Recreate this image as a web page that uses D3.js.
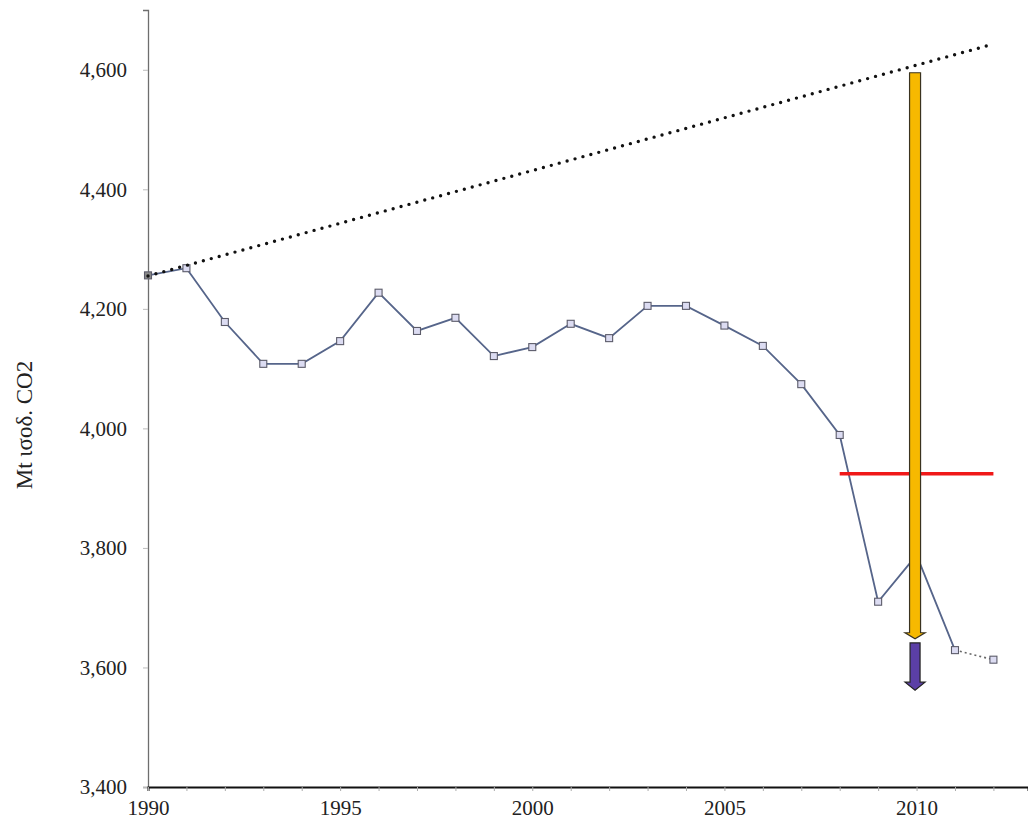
<!DOCTYPE html>
<html>
<head>
<meta charset="utf-8">
<script src="https://cdn.jsdelivr.net/npm/d3@7"></script>
<style>
  html, body { margin: 0; padding: 0; background: #fff; }
</style>
</head>
<body>
<svg id="chart" width="1028" height="825"></svg>
<script>
// Emissions, Mt CO2 equivalent
const years = [1990,1991,1992,1993,1994,1995,1996,1997,1998,1999,2000,2001,2002,2003,2004,2005,2006,2007,2008,2009,2010,2011];
const emissions = [4256,4268,4178,4108,4108,4146,4227,4163,4185,4121,4136,4175,4151,4205,4205,4172,4138,4074,3989,3710,3788,3629];
// Provisional estimate, joined by a dotted segment
const projYears = [2011, 2012];
const projValues = [3629, 3613];
// Business-as-usual trend line
const trendYears = [1990, 2012];
const trendValues = [4255, 4643];
// Target level over the commitment period
const targetYears = [2008, 2012];
const targetValue = 3924;
// Reduction arrows at 2010
const arrowYear = 2010;
const yellowArrow = [4595, 3648];
const purpleArrow = [3641, 3562];

const yTicks = [3400, 3600, 3800, 4000, 4200, 4400, 4600];
const xLabelYears = [1990, 1995, 2000, 2005, 2010];
const xMinorYears = d3.range(1990, 2013);

const FONT = "'Liberation Serif', 'Times New Roman', serif";

const svg = d3.select("#chart");
const x = d3.scaleLinear().domain([1990, 2012.9]).range([148, 1028]);
const y = d3.scaleLinear().domain([3400, 4700]).range([787, 10]);

// Y axis
const yAxis = svg.append("g").attr("transform", `translate(${x(1990)},0)`)
  .call(d3.axisLeft(y).tickValues(yTicks).tickFormat(d3.format(",")).tickSize(5).tickPadding(16));
yAxis.attr("font-family", FONT).attr("font-size", 21);
yAxis.select(".domain").attr("stroke", "#6e6e6e").attr("stroke-width", 1.3);
yAxis.selectAll(".tick line").attr("stroke", "#bbb");
yAxis.selectAll(".tick text").attr("fill", "#222");

// X axis: minor ticks every year, labels every five
const xAxis = svg.append("g").attr("transform", `translate(0,${y(3400)})`)
  .call(d3.axisBottom(x).tickValues(xMinorYears).tickSize(4)
    .tickFormat(d => xLabelYears.includes(d) ? String(d) : "").tickPadding(9));
xAxis.attr("font-family", FONT).attr("font-size", 21);
xAxis.select(".domain").attr("stroke", "#111").attr("stroke-width", 2);
xAxis.selectAll(".tick line").attr("stroke", "#aaa");
xAxis.selectAll(".tick text").attr("fill", "#222");

// Axis title
svg.append("text")
  .attr("transform", `translate(32,425) rotate(-90)`)
  .attr("text-anchor", "middle")
  .attr("font-family", FONT)
  .attr("font-size", 23)
  .attr("fill", "#222")
  .text("Mt ισοδ. CO2");

// Emissions line
const line = d3.line().x(d => x(d[0])).y(d => y(d[1]));
const series = years.map((yr, i) => [yr, emissions[i]]);
svg.append("path").datum(series)
  .attr("d", line).attr("fill", "none")
  .attr("stroke", "#56658a").attr("stroke-width", 1.8);

// Provisional dotted segment
svg.append("path").datum(projYears.map((yr, i) => [yr, projValues[i]]))
  .attr("d", line).attr("fill", "none")
  .attr("stroke", "#666").attr("stroke-width", 1.6)
  .attr("stroke-dasharray", "2 3");

// Markers
const pts = series.concat([[projYears[1], projValues[1]]]);
svg.append("g").selectAll("rect").data(pts).join("rect")
  .attr("x", d => x(d[0]) - 3.5).attr("y", d => y(d[1]) - 3.5)
  .attr("width", 7).attr("height", 7)
  .attr("fill", (d, i) => i === 0 ? "#8a8a8a" : "#dcdcf2")
  .attr("stroke", "#5c5c6a").attr("stroke-width", 1.1);

// Trend line (dotted)
svg.append("path").datum(trendYears.map((yr, i) => [yr, trendValues[i]]))
  .attr("d", line).attr("fill", "none")
  .attr("stroke", "#111").attr("stroke-width", 3.4)
  .attr("stroke-linecap", "round")
  .attr("stroke-dasharray", "0 8.2");

// Target line
svg.append("line")
  .attr("x1", x(targetYears[0])).attr("x2", x(targetYears[1]))
  .attr("y1", y(targetValue)).attr("y2", y(targetValue))
  .attr("stroke", "#f01818").attr("stroke-width", 3.5);

// Down arrows
function arrowPath(cx, top, tip, shaftHalf, headHalf, headLen) {
  const sb = tip - headLen;
  return `M${cx - shaftHalf},${top} L${cx + shaftHalf},${top} L${cx + shaftHalf},${sb}` +
         ` L${cx + headHalf},${sb} L${cx},${tip} L${cx - headHalf},${sb} L${cx - shaftHalf},${sb} Z`;
}
const ax = x(arrowYear) - 1.5;
svg.append("path")
  .attr("d", arrowPath(ax, y(yellowArrow[0]), y(yellowArrow[1]), 5.5, 10, 6))
  .attr("fill", "#f7b900").attr("stroke", "#3a3320").attr("stroke-width", 1.2);
svg.append("path")
  .attr("d", arrowPath(ax, y(purpleArrow[0]), y(purpleArrow[1]), 5, 10, 8))
  .attr("fill", "#5b3fa6").attr("stroke", "#222").attr("stroke-width", 1.2);
</script>
</body>
</html>
